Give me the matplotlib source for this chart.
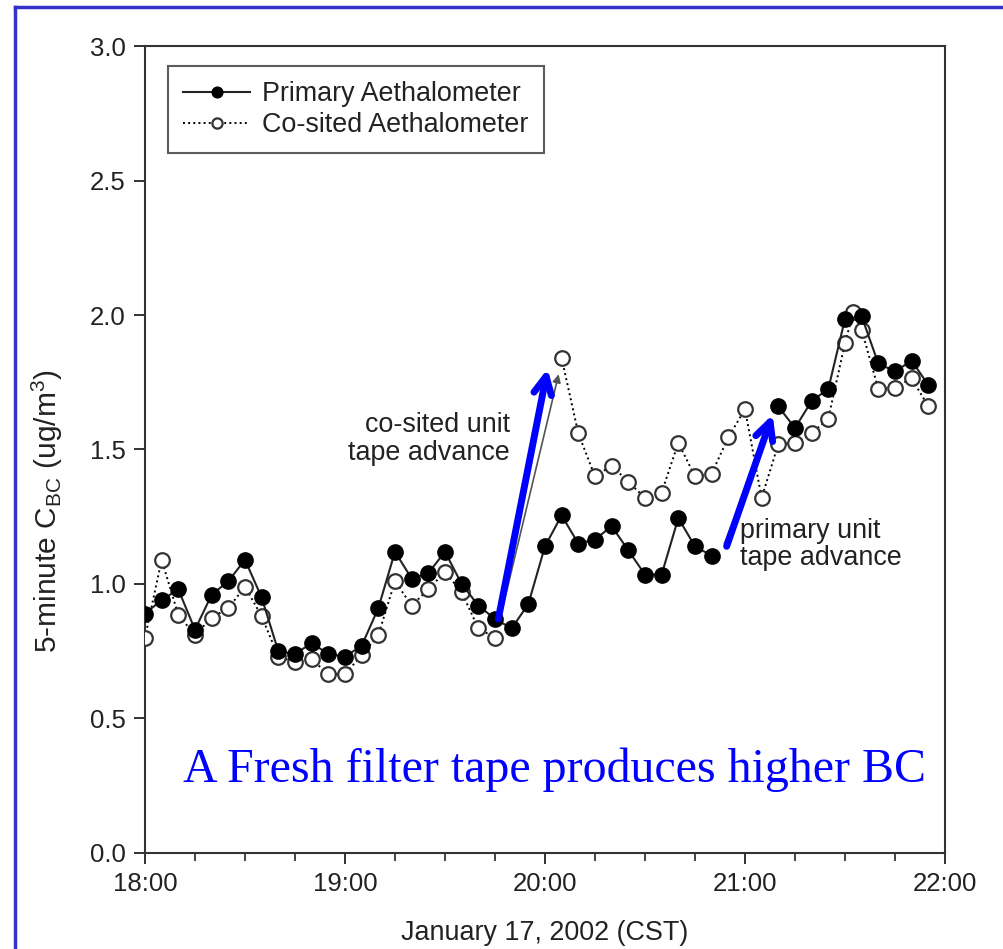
import numpy as np
import matplotlib
matplotlib.use("Agg")
import matplotlib.pyplot as plt
from matplotlib.lines import Line2D

nan = np.nan

# Minutes after 18:00
primary_min = [0, 5, 10, 15, 20, 25, 30, 35, 40, 45, 50, 55,
               60, 65, 70, 75, 80, 85, 90, 95, 100, 105, 110, 115,
               120, 125, 130, 135, 140, 145, 150, 155, 160, 165, 170, 175,
               180, 185, 190, 195, 200, 205, 210, 215, 220, 225, 230, 235]
primary_bc = [0.89, 0.94, 0.98, 0.83, 0.96, 1.01, 1.09, 0.95, 0.75, 0.74, 0.78, 0.74,
              0.73, 0.77, 0.91, 1.12, 1.02, 1.04, 1.12, 1.00, 0.92, 0.87, 0.835, 0.925,
              1.14, 1.255, 1.15, 1.165, 1.215, 1.125, 1.035, 1.035, 1.245, 1.14, 1.105, nan,
              nan, nan, 1.66, 1.58, 1.68, 1.725, 1.985, 1.995, 1.82, 1.79, 1.83, 1.74]

cosited_min = [0, 5, 10, 15, 20, 25, 30, 35, 40, 45, 50, 55,
               60, 65, 70, 75, 80, 85, 90, 95, 100, 105, 110, 115,
               120, 125, 130, 135, 140, 145, 150, 155, 160, 165, 170, 175,
               180, 185, 190, 195, 200, 205, 210, 212.5, 215, 220, 225, 230, 235]
cosited_bc = [0.80, 1.09, 0.885, 0.81, 0.875, 0.91, 0.99, 0.88, 0.73, 0.71, 0.72, 0.665,
              0.665, 0.735, 0.81, 1.01, 0.92, 0.98, 1.045, 0.97, 0.835, 0.80, nan, nan,
              nan, 1.84, 1.56, 1.40, 1.44, 1.38, 1.32, 1.34, 1.525, 1.40, 1.41, 1.545,
              1.65, 1.32, 1.52, 1.525, 1.56, 1.615, 1.895, 2.01, 1.945, 1.725, 1.73, 1.765, 1.66]

xtick_min = [0, 60, 120, 180, 240]
xtick_labels = ["18:00", "19:00", "20:00", "21:00", "22:00"]
yticks = [0.0, 0.5, 1.0, 1.5, 2.0, 2.5, 3.0]

plt.rcParams['font.family'] = ['Liberation Sans', 'DejaVu Sans']
plt.rcParams['mathtext.default'] = 'regular'

TXT = '#222222'
FS = 19.4

fig = plt.figure(figsize=(10.04, 9.49), dpi=100)
ax = fig.add_axes([0.1444, 0.1012, 0.7968, 0.8503])

ax.plot(cosited_min, cosited_bc, linestyle=':', color='black', lw=1.4,
        marker='o', markersize=10.5, markerfacecolor='white',
        markeredgecolor='#333333', markeredgewidth=1.6, zorder=3,
        label='Co-sited Aethalometer')
ax.plot(primary_min, primary_bc, linestyle='-', color='#222222', lw=1.5,
        marker='o', markersize=11, markerfacecolor='black',
        markeredgecolor='black', zorder=4,
        label='Primary Aethalometer')

ax.set_xlim(0, 240)
ax.set_ylim(0, 3.0)
ax.set_xticks(xtick_min)
ax.set_xticklabels(xtick_labels)
ax.set_xticks(np.arange(0, 241, 15), minor=True)
ax.set_yticks(yticks)
ax.set_yticklabels([f"{v:.1f}" for v in yticks])
ax.tick_params(axis='both', which='major', direction='out', length=8, width=1.3,
               labelsize=18.5, pad=6, colors=TXT)
ax.tick_params(axis='x', which='minor', direction='out', length=6, width=1.2, colors=TXT)
for s in ax.spines.values():
    s.set_linewidth(1.5)
    s.set_color('#333333')

ax.set_xlabel("January 17, 2002 (CST)", fontsize=FS, color=TXT, va='center')
ax.xaxis.set_label_coords(0.5, -0.099)
ax.set_ylabel(r"5-minute C$_{BC}$ (ug/m$^{3}$)", fontsize=21.5, color=TXT, va='center')
ax.yaxis.set_label_coords(-0.122, 0.424)

h, l = ax.get_legend_handles_labels()
leg = ax.legend(h[::-1], l[::-1], loc='upper left', bbox_to_anchor=(0.029, 0.975),
                fontsize=FS, frameon=True, fancybox=False, edgecolor='#333333',
                handlelength=2.5, handletextpad=0.45, borderpad=0.55, labelspacing=0.2,
                markerscale=0.7, borderaxespad=0)
leg.get_frame().set_linewidth(1.5)
for t in leg.get_texts():
    t.set_color(TXT)

# Original thin arrows
ax.annotate("", xy=(124.3, 1.79), xytext=(106.5, 0.87),
            arrowprops=dict(arrowstyle='-|>', color='#555555', lw=1.2, mutation_scale=12), zorder=2)
ax.annotate("", xy=(188.5, 1.62), xytext=(173.5, 1.14),
            arrowprops=dict(arrowstyle='-|>', color='#555555', lw=1.2, mutation_scale=12), zorder=2)

# Blue overlay arrows
ax.annotate("", xy=(120.8, 1.80), xytext=(106.0, 0.87),
            arrowprops=dict(arrowstyle='->', color='#0000FF', lw=5, mutation_scale=32,
                            shrinkA=0, shrinkB=0), zorder=5)
ax.annotate("", xy=(188.3, 1.63), xytext=(174.5, 1.14),
            arrowprops=dict(arrowstyle='->', color='#0000FF', lw=5, mutation_scale=32,
                            shrinkA=0, shrinkB=0), zorder=5)

ax.text(109.5, 1.54, "co-sited unit\ntape advance", ha='right', va='center',
        fontsize=FS, linespacing=1.1, color=TXT)
ax.text(178.5, 1.145, "primary unit\ntape advance", ha='left', va='center',
        fontsize=FS, linespacing=1.05, color=TXT)

fig.text(0.182, 0.176, "A Fresh filter tape produces higher BC", ha='left', va='baseline',
         fontsize=34.5, color='#0000FF', family=['Liberation Serif', 'DejaVu Serif'])

# blue slide border
fig.add_artist(Line2D([15.5 / 1004, 15.5 / 1004], [0, 1 - 7 / 949], transform=fig.transFigure,
                      color='#3333CC', lw=2.5))
fig.add_artist(Line2D([15.5 / 1004, 1], [1 - 7 / 949, 1 - 7 / 949], transform=fig.transFigure,
                      color='#3333CC', lw=2.5))

fig.savefig("out.png", dpi=100)
